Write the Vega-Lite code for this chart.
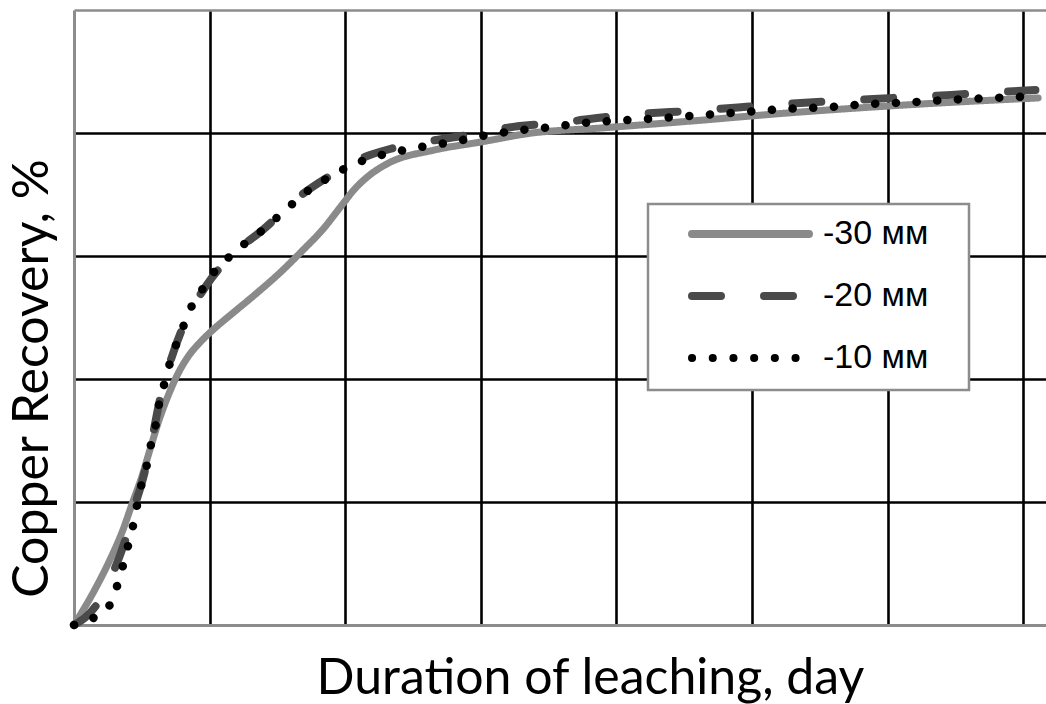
{
  "$schema": "https://vega.github.io/schema/vega-lite/v6.json",
  "width": 972,
  "height": 615,
  "autosize": {"type": "none"},
  "padding": {"left": 74, "top": 10, "right": 0, "bottom": 79},
  "background": "white",
  "config": {"view": {"stroke": null}},
  "datasets": {
    "curves": [
      {"series": "-30 мм", "day": 0, "rec": 0},
      {"series": "-30 мм", "day": 0.14, "rec": 5.2},
      {"series": "-30 мм", "day": 0.265, "rec": 10.6},
      {"series": "-30 мм", "day": 0.36, "rec": 15.4},
      {"series": "-30 мм", "day": 0.43, "rec": 19.8},
      {"series": "-30 мм", "day": 0.5, "rec": 24.1},
      {"series": "-30 мм", "day": 0.56, "rec": 28.5},
      {"series": "-30 мм", "day": 0.63, "rec": 33.5},
      {"series": "-30 мм", "day": 0.7, "rec": 37.6},
      {"series": "-30 мм", "day": 0.77, "rec": 41.0},
      {"series": "-30 мм", "day": 0.85, "rec": 43.9},
      {"series": "-30 мм", "day": 0.94, "rec": 46.2},
      {"series": "-30 мм", "day": 1.03, "rec": 48.1},
      {"series": "-30 мм", "day": 1.17, "rec": 50.7},
      {"series": "-30 мм", "day": 1.35, "rec": 54.0},
      {"series": "-30 мм", "day": 1.52, "rec": 57.3},
      {"series": "-30 мм", "day": 1.69, "rec": 61.0},
      {"series": "-30 мм", "day": 1.83, "rec": 64.2},
      {"series": "-30 мм", "day": 1.98, "rec": 68.4},
      {"series": "-30 мм", "day": 2.07, "rec": 70.9},
      {"series": "-30 мм", "day": 2.16, "rec": 72.8},
      {"series": "-30 мм", "day": 2.31, "rec": 75.0},
      {"series": "-30 мм", "day": 2.65, "rec": 77.2},
      {"series": "-30 мм", "day": 2.99, "rec": 78.5},
      {"series": "-30 мм", "day": 3.38, "rec": 80.0},
      {"series": "-30 мм", "day": 3.88, "rec": 80.8},
      {"series": "-30 мм", "day": 4.47, "rec": 81.8},
      {"series": "-30 мм", "day": 5.35, "rec": 83.4},
      {"series": "-30 мм", "day": 6.24, "rec": 84.7},
      {"series": "-30 мм", "day": 7.11, "rec": 85.7},

      {"series": "-20 мм", "day": 0, "rec": 0},
      {"series": "-20 мм", "day": 0.17, "rec": 3.4},
      {"series": "-20 мм", "day": 0.265, "rec": 7.3},
      {"series": "-20 мм", "day": 0.34, "rec": 11.4},
      {"series": "-20 мм", "day": 0.39, "rec": 14.6},
      {"series": "-20 мм", "day": 0.45, "rec": 19.5},
      {"series": "-20 мм", "day": 0.5, "rec": 23.1},
      {"series": "-20 мм", "day": 0.57, "rec": 29.6},
      {"series": "-20 мм", "day": 0.63, "rec": 36.3},
      {"series": "-20 мм", "day": 0.71, "rec": 42.8},
      {"series": "-20 мм", "day": 0.82, "rec": 49.3},
      {"series": "-20 мм", "day": 0.97, "rec": 55.0},
      {"series": "-20 мм", "day": 1.17, "rec": 60.3},
      {"series": "-20 мм", "day": 1.39, "rec": 64.2},
      {"series": "-20 мм", "day": 1.67, "rec": 69.8},
      {"series": "-20 мм", "day": 1.9, "rec": 73.2},
      {"series": "-20 мм", "day": 2.11, "rec": 75.8},
      {"series": "-20 мм", "day": 2.33, "rec": 77.4},
      {"series": "-20 мм", "day": 2.63, "rec": 78.7},
      {"series": "-20 мм", "day": 2.94, "rec": 79.8},
      {"series": "-20 мм", "day": 3.24, "rec": 81.0},
      {"series": "-20 мм", "day": 3.55, "rec": 81.6},
      {"series": "-20 мм", "day": 4.0, "rec": 82.8},
      {"series": "-20 мм", "day": 4.62, "rec": 83.7},
      {"series": "-20 мм", "day": 5.24, "rec": 84.7},
      {"series": "-20 мм", "day": 5.86, "rec": 85.5},
      {"series": "-20 мм", "day": 6.47, "rec": 86.2},
      {"series": "-20 мм", "day": 7.09, "rec": 87.0},

      {"series": "-10 мм", "day": 0, "rec": 0},
      {"series": "-10 мм", "day": 0.14, "rec": 1.1},
      {"series": "-10 мм", "day": 0.265, "rec": 3.3},
      {"series": "-10 мм", "day": 0.32, "rec": 6.5},
      {"series": "-10 мм", "day": 0.36, "rec": 9.6},
      {"series": "-10 мм", "day": 0.4, "rec": 13.0},
      {"series": "-10 мм", "day": 0.435, "rec": 16.1},
      {"series": "-10 мм", "day": 0.465, "rec": 19.5},
      {"series": "-10 мм", "day": 0.5, "rec": 23.1},
      {"series": "-10 мм", "day": 0.54, "rec": 26.3},
      {"series": "-10 мм", "day": 0.57, "rec": 29.6},
      {"series": "-10 мм", "day": 0.605, "rec": 32.8},
      {"series": "-10 мм", "day": 0.63, "rec": 36.3},
      {"series": "-10 мм", "day": 0.67, "rec": 39.5},
      {"series": "-10 мм", "day": 0.71, "rec": 42.8},
      {"series": "-10 мм", "day": 0.76, "rec": 46.0},
      {"series": "-10 мм", "day": 0.82, "rec": 49.3},
      {"series": "-10 мм", "day": 0.88, "rec": 52.4},
      {"series": "-10 мм", "day": 0.97, "rec": 55.3},
      {"series": "-10 мм", "day": 1.05, "rec": 57.9},
      {"series": "-10 мм", "day": 1.17, "rec": 60.3},
      {"series": "-10 мм", "day": 1.28, "rec": 62.4},
      {"series": "-10 мм", "day": 1.39, "rec": 64.2},
      {"series": "-10 мм", "day": 1.52, "rec": 66.7},
      {"series": "-10 мм", "day": 1.67, "rec": 69.6},
      {"series": "-10 мм", "day": 1.76, "rec": 71.2},
      {"series": "-10 мм", "day": 1.9, "rec": 73.0},
      {"series": "-10 мм", "day": 2.03, "rec": 74.6},
      {"series": "-10 мм", "day": 2.17, "rec": 75.8},
      {"series": "-10 мм", "day": 2.32, "rec": 76.7},
      {"series": "-10 мм", "day": 2.48, "rec": 77.4},
      {"series": "-10 мм", "day": 2.63, "rec": 78.0},
      {"series": "-10 мм", "day": 2.78, "rec": 78.5},
      {"series": "-10 мм", "day": 2.94, "rec": 79.2},
      {"series": "-10 мм", "day": 3.08, "rec": 79.8},
      {"series": "-10 мм", "day": 3.24, "rec": 80.3},
      {"series": "-10 мм", "day": 3.39, "rec": 80.7},
      {"series": "-10 мм", "day": 3.55, "rec": 81.0},
      {"series": "-10 мм", "day": 3.69, "rec": 81.5},
      {"series": "-10 мм", "day": 3.85, "rec": 81.8},
      {"series": "-10 мм", "day": 4.0, "rec": 82.0},
      {"series": "-10 мм", "day": 4.31, "rec": 82.4},
      {"series": "-10 мм", "day": 4.62, "rec": 82.9},
      {"series": "-10 мм", "day": 4.93, "rec": 83.4},
      {"series": "-10 мм", "day": 5.24, "rec": 83.9},
      {"series": "-10 мм", "day": 5.55, "rec": 84.2},
      {"series": "-10 мм", "day": 5.86, "rec": 84.7},
      {"series": "-10 мм", "day": 6.17, "rec": 85.0},
      {"series": "-10 мм", "day": 6.47, "rec": 85.4},
      {"series": "-10 мм", "day": 6.78, "rec": 85.7},
      {"series": "-10 мм", "day": 7.09, "rec": 86.0}
    ]
  },
  "data": {"name": "curves"},
  "encoding": {
    "x": {
      "field": "day", "type": "quantitative",
      "scale": {"domain": [0, 7.168], "nice": false, "zero": false},
      "axis": {
        "title": "Duration of leaching, day",
        "titleFont": "Lato", "titleFontSize": 50, "titleFontWeight": "normal", "titleColor": "#000000",
        "titleAnchor": "start", "titleAlign": "center", "titleBaseline": "alphabetic",
        "titleX": 516, "titleY": 68,
        "labels": false, "ticks": false,
        "domain": true, "domainColor": "#8c8c8c", "domainWidth": 3,
        "grid": true, "gridColor": "#000000", "gridWidth": 2.6, "gridOpacity": 1,
        "values": [1, 2, 3, 4, 5, 6, 7]
      }
    },
    "y": {
      "field": "rec", "type": "quantitative",
      "scale": {"domain": [0, 100], "nice": false},
      "axis": {
        "title": "Copper Recovery, %",
        "titleFont": "Lato", "titleFontSize": 50, "titleFontWeight": "normal", "titleColor": "#000000",
        "titleAngle": -90, "titleAlign": "center", "titleBaseline": "alphabetic",
        "titleX": -27, "titleY": 368,
        "labels": false, "ticks": false,
        "domain": true, "domainColor": "#8c8c8c", "domainWidth": 3,
        "grid": true, "gridWidth": 2.6, "gridOpacity": 1,
        "gridColor": {"condition": {"test": "datum.value >= 100", "value": "#8c8c8c"}, "value": "#000000"},
        "values": [20, 40, 60, 80, 100]
      }
    },
    "color": {
      "field": "series", "type": "nominal",
      "scale": {"domain": ["-30 мм", "-20 мм", "-10 мм"], "range": ["#8a8a8a", "#4a4a4a", "#000000"]},
      "legend": {
        "title": null,
        "orient": "none", "legendX": 574, "legendY": 194,
        "fillColor": "#ffffff", "strokeColor": "#8c8c8c",
        "padding": 15,
        "symbolType": "stroke", "symbolSize": 13689, "symbolStrokeWidth": 8, "symbolOffset": 25,
        "clipHeight": 30, "rowPadding": 28,
        "labelFont": "Liberation Sans", "labelFontSize": 34, "labelColor": "#000000", "labelOffset": 10,
        "labelLimit": 400,
        "labelExpr": "datum.label + '\u2800'",
        "encode": {
          "symbols": {"update": {"strokeCap": {"value": "round"}}},
          "legend": {"update": {"strokeWidth": {"value": 2.5}}}
        }
      }
    },
    "strokeDash": {
      "field": "series", "type": "nominal",
      "scale": {"domain": ["-30 мм", "-20 мм", "-10 мм"], "range": [[1, 0], [29, 43], [0.1, 20.6]]},
      "legend": {
        "title": null,
        "orient": "none", "legendX": 574, "legendY": 194,
        "fillColor": "#ffffff", "strokeColor": "#8c8c8c",
        "padding": 15,
        "symbolType": "stroke", "symbolSize": 13689, "symbolStrokeWidth": 8, "symbolOffset": 25,
        "clipHeight": 30, "rowPadding": 28,
        "labelFont": "Liberation Sans", "labelFontSize": 34, "labelColor": "#000000", "labelOffset": 10,
        "labelLimit": 400,
        "labelExpr": "datum.label + '\u2800'",
        "encode": {
          "symbols": {"update": {"strokeCap": {"value": "round"}}},
          "legend": {"update": {"strokeWidth": {"value": 2.5}}}
        }
      }
    }
  },
  "layer": [
    {
      "transform": [{"filter": "datum.series === '-30 мм'"}],
      "mark": {"type": "line", "strokeWidth": 7, "strokeCap": "round", "strokeJoin": "round", "interpolate": "monotone"}
    },
    {
      "transform": [{"filter": "datum.series === '-20 мм'"}],
      "mark": {"type": "line", "strokeWidth": 8, "strokeCap": "round", "strokeJoin": "round", "interpolate": "monotone"}
    },
    {
      "transform": [{"filter": "datum.series === '-10 мм'"}],
      "mark": {"type": "line", "strokeWidth": 8.5, "strokeCap": "round", "strokeJoin": "round", "interpolate": "monotone"}
    }
  ]
}
